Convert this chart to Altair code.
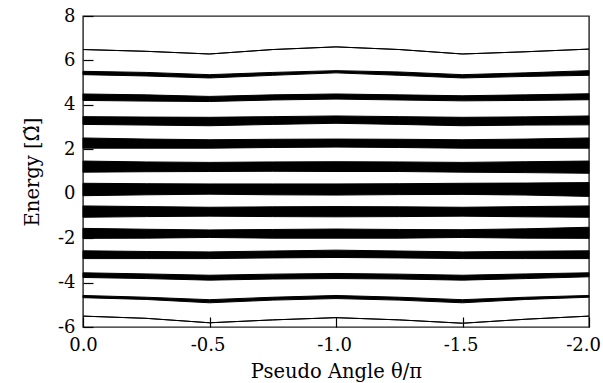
import altair as alt
import pandas as pd

# Pseudo angle theta/pi sample points
X = [0.0, -0.25, -0.5, -0.75, -1.0, -1.25, -1.5, -1.75, -2.0]

# Upper and lower edge of each energy band, top band first
BAND_TOP = [
    [6.49, 6.41, 6.29, 6.49, 6.61, 6.49, 6.29, 6.39, 6.51],
    [5.51, 5.46, 5.36, 5.46, 5.54, 5.48, 5.36, 5.44, 5.54],
    [4.49, 4.45, 4.38, 4.45, 4.49, 4.45, 4.41, 4.45, 4.50],
    [3.47, 3.45, 3.44, 3.47, 3.50, 3.47, 3.44, 3.46, 3.50],
    [2.51, 2.46, 2.43, 2.45, 2.46, 2.45, 2.43, 2.46, 2.51],
    [1.47, 1.43, 1.41, 1.43, 1.44, 1.43, 1.41, 1.44, 1.47],
    [0.47, 0.45, 0.44, 0.44, 0.44, 0.45, 0.47, 0.48, 0.50],
    [-0.55, -0.58, -0.61, -0.59, -0.58, -0.59, -0.61, -0.58, -0.55],
    [-1.56, -1.60, -1.63, -1.61, -1.59, -1.61, -1.62, -1.58, -1.51],
    [-2.57, -2.60, -2.62, -2.58, -2.54, -2.58, -2.62, -2.59, -2.57],
    [-3.56, -3.61, -3.67, -3.62, -3.59, -3.62, -3.67, -3.61, -3.56],
    [-4.58, -4.66, -4.77, -4.66, -4.58, -4.66, -4.77, -4.66, -4.58],
    [-5.51, -5.61, -5.81, -5.68, -5.58, -5.68, -5.83, -5.65, -5.51],
]
BAND_BOT = [
    [6.49, 6.41, 6.29, 6.49, 6.61, 6.49, 6.29, 6.39, 6.51],
    [5.36, 5.30, 5.21, 5.33, 5.44, 5.33, 5.21, 5.28, 5.33],
    [4.20, 4.17, 4.15, 4.22, 4.26, 4.22, 4.18, 4.20, 4.23],
    [3.12, 3.09, 3.06, 3.12, 3.17, 3.12, 3.06, 3.09, 3.10],
    [2.05, 2.05, 2.05, 2.08, 2.10, 2.08, 2.05, 2.05, 2.05],
    [0.97, 0.99, 1.00, 1.01, 1.00, 1.00, 0.97, 0.95, 0.92],
    [-0.09, -0.05, -0.02, -0.05, -0.06, -0.04, -0.03, -0.06, -0.12],
    [-1.06, -1.03, -1.01, -1.03, -1.04, -1.03, -1.01, -1.04, -1.06],
    [-2.01, -2.00, -1.97, -2.00, -2.00, -2.00, -1.97, -2.00, -2.01],
    [-2.92, -2.92, -2.92, -2.89, -2.87, -2.89, -2.92, -2.92, -2.92],
    [-3.77, -3.82, -3.89, -3.84, -3.82, -3.84, -3.89, -3.82, -3.74],
    [-4.68, -4.76, -4.91, -4.79, -4.72, -4.79, -4.91, -4.76, -4.66],
    [-5.51, -5.61, -5.81, -5.68, -5.58, -5.68, -5.83, -5.65, -5.51],
]

X_TICKS = [0.0, -0.5, -1.0, -1.5, -2.0]
Y_TICKS = [-6, -4, -2, 0, 2, 4, 6, 8]

rows = []
for b, (top, bot) in enumerate(zip(BAND_TOP, BAND_BOT)):
    for x, t, lo in zip(X, top, bot):
        rows.append({"band": b, "x": x, "top": t, "bot": lo})
df = pd.DataFrame(rows)

FONT = "DejaVu Serif"

chart = (
    alt.Chart(df)
    .mark_area(color="black", stroke="black", strokeWidth=1.0, interpolate="linear")
    .encode(
        x=alt.X(
            "x:Q",
            scale=alt.Scale(domain=[0, -2], nice=False, zero=False),
            axis=alt.Axis(
                title="Pseudo Angle θ/π",
                values=X_TICKS,
                labelExpr="datum.value == 0 ? '0.0' : '-' + format(abs(datum.value), '.1f')",
                grid=False,
                domain=False,
                offset=-10,
                tickSize=10,
                tickColor="black",
                tickWidth=1.2,
                labelPadding=9,
                labelFlush=False,
                labelOverlap=False,
                labelOffset={"expr": "datum.value == -2 ? -6 : (datum.value < 0 ? -2 : 0)"},
                titlePadding=8,
            ),
        ),
        y=alt.Y(
            "top:Q",
            scale=alt.Scale(domain=[-6, 8], nice=False, zero=False),
            axis=alt.Axis(
                title="Energy [Ω\u0303]",
                values=Y_TICKS,
                labelExpr="datum.value < 0 ? '-' + abs(datum.value) : '' + datum.value",
                grid=False,
                domain=False,
                offset=-10,
                tickSize=10,
                tickColor="black",
                tickWidth=1.2,
                labelPadding=8,
                labelFlush=False,
                labelOverlap=False,
                titlePadding=15,
            ),
        ),
        y2="bot:Q",
        detail="band:N",
    )
    .properties(
        width=506,
        height=311,
        autosize=alt.AutoSizeParams(type="none"),
        padding={"left": 83, "top": 16, "right": 14, "bottom": 56},
    )
    .configure_view(stroke="#222", strokeWidth=1.4)
    .configure_axis(
        labelFont=FONT,
        titleFont=FONT,
        labelFontSize=18,
        titleFontSize=19.5,
        titleFontWeight="normal",
        labelColor="black",
        titleColor="black",
    )
)

chart.save("out.html", embed_options={"renderer": "svg", "actions": False})
